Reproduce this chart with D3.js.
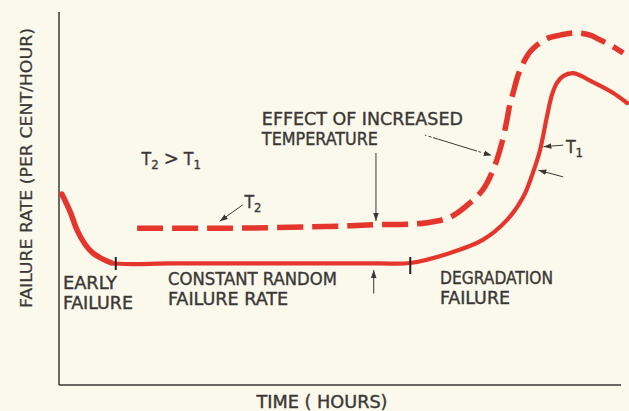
<!DOCTYPE html>
<html>
<head>
<meta charset="utf-8">
<script src="https://cdn.jsdelivr.net/npm/d3@7"></script>
<style>
  html, body { margin: 0; padding: 0; background: #fbf8ec; }
  svg { display: block; }
  text { font-family: "DejaVu Sans Condensed", "DejaVu Sans", sans-serif; fill: #3a3835; stroke: #3a3835; stroke-width: 0.35; }
</style>
</head>
<body>
<svg id="chart" width="629" height="411"></svg>
<script>
// Bathtub curve: failure rate vs time, at normal (T1) and raised (T2) temperature.
// Units are relative: time 0–100, failure rate 0–100.

const t1Time = [0.5, 2.0, 3.2, 4.6, 6.0, 7.7, 9.4, 20.0, 30.0, 40.0, 50.0, 57.0, 62.5, 69.6, 75.4, 79.7, 82.6, 84.3, 85.6, 86.8, 87.7, 88.6, 89.7, 91.5, 95.0, 98.6, 101.1];
const t1Rate = [51.2, 46.4, 41.6, 37.8, 35.4, 33.8, 32.7, 32.6, 32.6, 32.6, 32.6, 32.6, 32.7, 35.4, 38.9, 44.2, 50.4, 56.8, 63.0, 71.8, 77.7, 81.0, 82.8, 83.6, 81.2, 78.3, 75.6];

const t2Time = [13.9, 24.0, 34.0, 44.7, 52.0, 57.1, 61.9, 65.5, 69.6, 73.1, 75.4, 76.7, 77.9, 78.8, 79.7, 80.2, 80.8, 81.7, 82.6, 83.8, 85.1, 87.0, 89.1, 92.2, 94.5, 96.3, 98.4, 100.4];
const t2Rate = [42.0, 42.0, 42.1, 42.4, 42.7, 43.0, 43.1, 43.5, 45.0, 48.8, 52.3, 55.8, 60.3, 64.9, 71.0, 75.1, 78.3, 83.1, 86.3, 89.3, 91.2, 93.0, 93.8, 94.4, 93.8, 92.5, 90.9, 89.0];

// Boundaries between the three life phases
const phaseBounds = [10.1, 62.5];

const xTitle = "TIME ( HOURS)";
const yTitle = "FAILURE RATE (PER CENT/HOUR)";

const svg = d3.select("#chart");
const x = d3.scaleLinear().domain([0, 100]).range([59, 621]);
const y = d3.scaleLinear().domain([0, 100]).range([385, 12]);

const red = "#e5362e";
const ink = "#3a3835";

// arrowhead marker
svg.append("defs").append("marker")
  .attr("id", "head").attr("viewBox", "0 0 10 10")
  .attr("refX", 10).attr("refY", 5)
  .attr("markerWidth", 8).attr("markerHeight", 8)
  .attr("markerUnits", "userSpaceOnUse")
  .attr("orient", "auto")
  .append("path").attr("d", "M0,1.5 L10,5 L0,8.5 Z").attr("fill", ink);

// axes
svg.append("line")
  .attr("x1", x(0)).attr("x2", x(0)).attr("y1", y(100)).attr("y2", y(0))
  .attr("stroke", ink).attr("stroke-width", 1.5);
svg.append("line")
  .attr("x1", x(0)).attr("x2", x(100)).attr("y1", y(0)).attr("y2", y(0))
  .attr("stroke", ink).attr("stroke-width", 1.5);

const line = d3.line().x(d => x(d[0])).y(d => y(d[1])).curve(d3.curveCatmullRom.alpha(0.5));

const t1 = t1Time.map((t, i) => [t, t1Rate[i]]);
const t2 = t2Time.map((t, i) => [t, t2Rate[i]]);

// T2 (raised temperature), dashed
svg.append("path").datum(t2).attr("d", line)
  .attr("fill", "none").attr("stroke", red).attr("stroke-width", 5.5)
  .attr("stroke-dasharray", "26 9");

// T1, solid
svg.append("path").datum(t1).attr("d", line)
  .attr("fill", "none").attr("stroke", red).attr("stroke-width", 4.2)
  .attr("stroke-linecap", "round");

// heavier stroke over the early-failure stretch
svg.append("path").datum(t1.slice(0, 7)).attr("d", line)
  .attr("fill", "none").attr("stroke", red).attr("stroke-width", 5.5)
  .attr("stroke-linecap", "round");

// phase boundary ticks on the T1 curve
const plateau = t1Rate[6];
svg.selectAll(".phase").data(phaseBounds).join("line")
  .attr("x1", d => x(d)).attr("x2", d => x(d))
  .attr("y1", y(plateau) - 6).attr("y2", (d, i) => y(plateau) + (i ? 11 : 7))
  .attr("stroke", "#222").attr("stroke-width", 2);

// annotation arrows (data coordinates)
function arrow(a, b, dash) {
  svg.append("line")
    .attr("x1", x(a[0])).attr("y1", y(a[1])).attr("x2", x(b[0])).attr("y2", y(b[1]))
    .attr("stroke", ink).attr("stroke-width", 1)
    .attr("stroke-dasharray", dash || null)
    .attr("marker-end", "url(#head)");
}
arrow([32.7, 48.3], [28.6, 43.9]);          // T2 label
arrow([56.4, 62.2], [56.4, 44.0]);          // temperature effect, down
arrow([65.1, 67.0], [77.0, 61.5], "1.5 2.5 3 1.5 6 0.1 40"); // temperature effect, to rise
arrow([56.0, 24.5], [56.0, 30.8]);          // constant rate, up
arrow([89.7, 64.3], [86.2, 63.9]);          // T1 label
arrow([89.7, 55.8], [85.3, 57.6]);          // second pointer

// text labels
function label(str, tx, ty, w, size) {
  svg.append("text").attr("x", x(tx)).attr("y", y(ty))
    .attr("font-size", size || 17.5)
    .attr("textLength", w).attr("lengthAdjust", "spacingAndGlyphs")
    .text(str);
}
label("EFFECT OF INCREASED", 36.1, 69.7, 201);
label("TEMPERATURE", 36.1, 64.3, 116);
label("EARLY", 0.7, 25.7, 54);
label("FAILURE", 0.7, 20.4, 70);
label("CONSTANT RANDOM", 19.4, 26.8, 169);
label("FAILURE RATE", 19.4, 21.4, 120);
label("DEGRADATION", 67.8, 27.1, 113);
label("FAILURE", 67.8, 21.7, 70);

// subscripted temperature labels
function tLabel(parts, tx, ty) {
  const t = svg.append("text").attr("x", x(tx)).attr("y", y(ty)).attr("font-size", 17.5);
  parts.forEach(p => {
    t.append("tspan").attr("font-size", p.sub ? 13 : (p.big ? 20 : 17.5))
      .attr("dy", p.sub ? 4 : (p.up ? -4 : 0))
      .attr("dx", p.dx || 0)
      .text(p.s);
  });
}
tLabel([{s: "T"}, {s: "2", sub: true}, {s: ">", up: true, dx: 5, big: true}, {s: "T", dx: 5}, {s: "1", sub: true}], 14.7, 59.0);
tLabel([{s: "T"}, {s: "2", sub: true}], 33.0, 47.4);
tLabel([{s: "T"}, {s: "1", sub: true}], 90.2, 62.2);

// axis titles
svg.append("text")
  .attr("x", x(46.8)).attr("y", 408)
  .attr("text-anchor", "middle").attr("font-size", 17)
  .attr("textLength", 131).attr("lengthAdjust", "spacingAndGlyphs")
  .text(xTitle);
svg.append("text")
  .attr("transform", "translate(32," + 168 + ") rotate(-90)")
  .attr("text-anchor", "middle").attr("font-size", 16)
  .attr("textLength", 280).attr("lengthAdjust", "spacingAndGlyphs")
  .style("stroke-width", 0.2)
  .text(yTitle);
</script>
</body>
</html>
